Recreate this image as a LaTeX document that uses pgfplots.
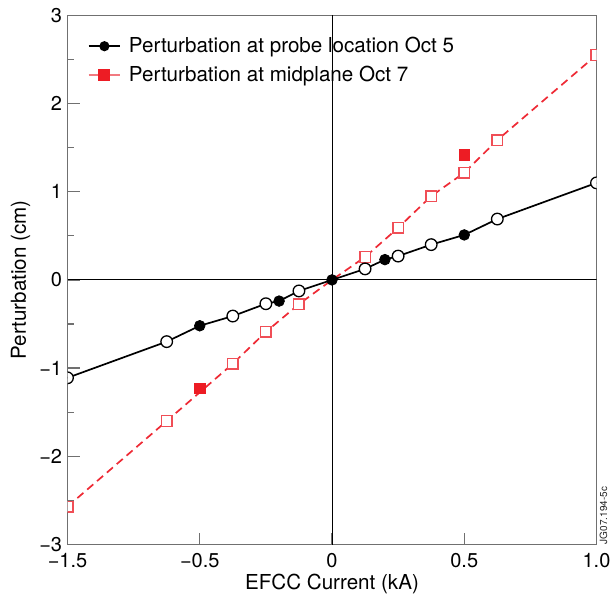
\documentclass[border=0pt]{standalone}
\usepackage{fontspec}
\setmainfont{TeX Gyre Heros}
\usepackage{pgfplots}
\pgfplotsset{compat=1.18}
\definecolor{frame}{HTML}{707070}
\definecolor{redfill}{HTML}{ED1C24}
\definecolor{redopen}{HTML}{F04E56}
\definecolor{redline}{HTML}{EE2A35}
\definecolor{redleg}{HTML}{F27A80}
\begin{document}
\fontsize{10.3}{12.4}\selectfont
\begin{tikzpicture}
\path[use as bounding box] (-33.75pt,-25.25pt) rectangle (271.25pt,272.25pt);
\begin{axis}[
  name=ax,
  at={(0pt,0pt)}, anchor=south west,
  scale only axis, width=264.5pt, height=264.6pt,
  xmin=-1, xmax=1, ymin=-3, ymax=3,
  axis line style={draw=frame, line width=0.7pt},
  xtick={-1,-0.5,0,0.5,1}, xticklabels={−1.5,−0.5,0,0.5,1.0},
  ytick={-3,-2,-1,0,1,2,3}, yticklabels={−3,−2,−1,0,1,2,3},
  minor ytick={-2.5,-1.5,-0.5,0.5,1.5,2.5},
  xtick pos=bottom, ytick pos=left,
  tick align=inside,
  major tick length=6pt, minor tick length=3pt,
  every tick/.style={draw=frame, line width=0.65pt},
  minor tick style={draw=frame, line width=0.65pt},
  every tick label/.append style={font=\fontsize{10}{12}\selectfont},
  xticklabel style={inner sep=0pt, yshift=-4pt},
  yticklabel style={inner sep=0pt, xshift=-2.5pt},
  xlabel={EFCC Current (kA)}, ylabel={Perturbation (cm)},
  every axis x label/.style={at={(axis description cs:0.5,-0.0845)}, anchor=base},
  every axis y label/.style={at={(axis description cs:-0.0785,0.5)}, rotate=90, anchor=base},
  clip marker paths=true,
  legend style={at={(axis description cs:0.0385,0.9585)}, anchor=north west, draw=none, fill=none, inner sep=0pt, outer sep=0pt, row sep=5.6pt, column sep=4pt, nodes={inner sep=0pt}},
  legend cell align=left,
  legend image code/.code={\draw[mark repeat=2, mark phase=2, #1] plot coordinates {(0pt,0pt) (7.85pt,0pt) (15.7pt,0pt)};},
]
\draw[black, line width=0.45pt] (axis cs:0,-3) -- (axis cs:0,3);
\draw[black, line width=0.45pt] (axis cs:-1,0) -- (axis cs:1,0);

% midplane, Oct 7: dashed line through open squares
\addplot[redline, line width=0.85pt, dash pattern=on 4pt off 2.5pt, mark=none, forget plot] coordinates {
(-1,-2.57) (-0.625,-1.60) (-0.375,-0.95) (-0.25,-0.59) (-0.125,-0.275) (0,0)
(0.125,0.26) (0.25,0.59) (0.375,0.95) (0.5,1.215) (0.625,1.585) (1,2.55)};
\addplot[only marks, mark=square*, mark size=2.65pt, mark options={draw=redopen, fill=white, line width=0.75pt, solid}, forget plot] coordinates {
(-1,-2.57) (-0.625,-1.60) (-0.375,-0.95) (-0.25,-0.59) (-0.125,-0.275)
(0.125,0.26) (0.25,0.59) (0.375,0.95) (0.5,1.215) (0.625,1.585) (1,2.55)};
\addplot[only marks, mark=square*, mark size=2.65pt, mark options={draw=redfill, fill=redfill, solid}, forget plot] coordinates {
(-0.5,-1.23) (0.5,1.415)};

% probe location, Oct 5
\addplot[black, line width=0.85pt, mark=none, forget plot] coordinates {
(-1,-1.11) (-0.625,-0.70) (-0.5,-0.52) (-0.375,-0.41) (-0.25,-0.27) (-0.2,-0.24) (-0.125,-0.125) (0,0)
(0.125,0.125) (0.2,0.23) (0.25,0.27) (0.375,0.40) (0.5,0.51) (0.625,0.69) (1,1.10)};
\addplot[only marks, mark=*, mark size=2.9pt, mark options={draw=black, fill=white, line width=0.65pt}, forget plot] coordinates {
(-1,-1.11) (-0.625,-0.70) (-0.375,-0.41) (-0.25,-0.27) (-0.125,-0.125)
(0.125,0.125) (0.25,0.27) (0.375,0.40) (0.625,0.69) (1,1.10)};
\addplot[only marks, mark=*, mark size=2.65pt, mark options={draw=black, fill=black}, forget plot] coordinates {
(-0.5,-0.52) (-0.2,-0.24) (0,0) (0.2,0.23) (0.5,0.51)};

\addlegendimage{black, line width=0.85pt, mark=*, mark size=2.1pt, mark options={fill=black}}
\addlegendentry{\raisebox{0pt}[7.4pt][0pt]{Perturbation at probe location Oct 5}}
\addlegendimage{redleg, line width=0.85pt, mark=square*, mark size=2.6pt, mark options={fill=redfill, draw=redfill}}
\addlegendentry{\raisebox{0pt}[7.4pt][0pt]{Perturbation at midplane Oct 7}}
\end{axis}
\node[rotate=90, anchor=base west, inner sep=0pt, font=\fontsize{5}{6}\selectfont, text=black!85] at ([xshift=5.25pt]ax.south east) {JG07.194-5c};
\end{tikzpicture}
\end{document}
